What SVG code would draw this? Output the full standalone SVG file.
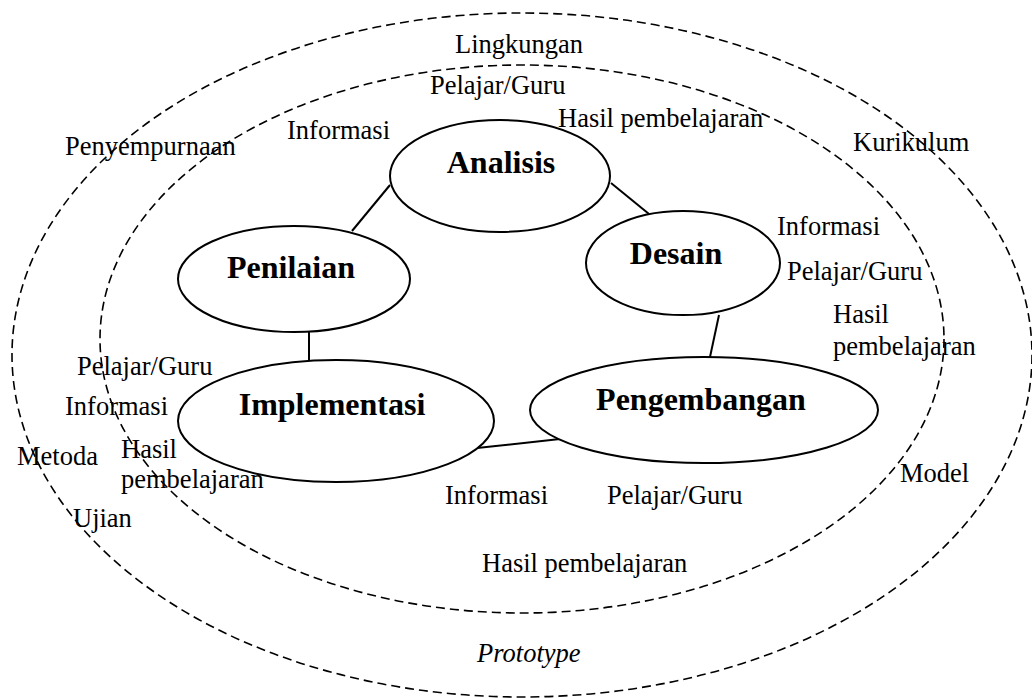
<svg xmlns="http://www.w3.org/2000/svg" width="1032" height="698" viewBox="0 0 1032 698">
<style>
.bg{fill:#fff}
.ring{fill:none;stroke:#000;stroke-width:1.6;stroke-dasharray:9 5}
.node ellipse{fill:#fff;stroke:#000;stroke-width:2}
.node text{font-family:"Liberation Serif","Times New Roman",serif;font-weight:bold;font-size:32px;fill:#000;text-anchor:middle}
.lbl{font-family:"Liberation Serif","Times New Roman",serif;font-size:26.5px;fill:#000}
.it{font-style:italic}
.edge{stroke:#000;stroke-width:2;fill:none}
</style>
<rect class="bg" x="0" y="0" width="1032" height="698"/>
<g id="rings">
<ellipse class="ring" cx="522" cy="355" rx="510" ry="342"/>
<ellipse class="ring" cx="522" cy="339" rx="422" ry="274"/>
</g>
<g id="connectors">
<line class="edge" x1="390" y1="185" x2="352" y2="231"/>
<line class="edge" x1="611" y1="183" x2="649" y2="214"/>
<line class="edge" x1="719" y1="315" x2="710" y2="357"/>
<line class="edge" x1="309" y1="332" x2="309" y2="360"/>
<line class="edge" x1="477" y1="448" x2="560" y2="439"/>
</g>
<g id="node-analisis" class="node"><ellipse cx="500" cy="176" rx="110" ry="56"/><text x="501" y="173">Analisis</text></g>
<g id="node-desain" class="node"><ellipse cx="683" cy="263" rx="97" ry="52"/><text x="676" y="264">Desain</text></g>
<g id="node-penilaian" class="node"><ellipse cx="294" cy="279" rx="116" ry="53"/><text x="291" y="278">Penilaian</text></g>
<g id="node-implementasi" class="node"><ellipse cx="336" cy="421" rx="158" ry="61"/><text x="332" y="415">Implementasi</text></g>
<g id="node-pengembangan" class="node"><ellipse cx="704" cy="410" rx="174" ry="53"/><text x="701" y="410">Pengembangan</text></g>
<g id="labels">
<text class="lbl" x="455" y="53">Lingkungan</text>
<text class="lbl" x="430" y="94">Pelajar/Guru</text>
<text class="lbl" x="558" y="127">Hasil pembelajaran</text>
<text class="lbl" x="287" y="139">Informasi</text>
<text class="lbl" x="65" y="155">Penyempurnaan</text>
<text class="lbl" x="853" y="151">Kurikulum</text>
<text class="lbl" x="777" y="235">Informasi</text>
<text class="lbl" x="787" y="280">Pelajar/Guru</text>
<text class="lbl" x="833" y="323">Hasil</text>
<text class="lbl" x="833" y="355">pembelajaran</text>
<text class="lbl" x="900" y="482">Model</text>
<text class="lbl" x="77" y="375">Pelajar/Guru</text>
<text class="lbl" x="65" y="415">Informasi</text>
<text class="lbl" x="17" y="465">Metoda</text>
<text class="lbl" x="121" y="458">Hasil</text>
<text class="lbl" x="121" y="488">pembelajaran</text>
<text class="lbl" x="73" y="527">Ujian</text>
<text class="lbl" x="445" y="504">Informasi</text>
<text class="lbl" x="607" y="504">Pelajar/Guru</text>
<text class="lbl" x="482" y="572">Hasil pembelajaran</text>
<text class="lbl it" x="477" y="662">Prototype</text>
</g>
</svg>
